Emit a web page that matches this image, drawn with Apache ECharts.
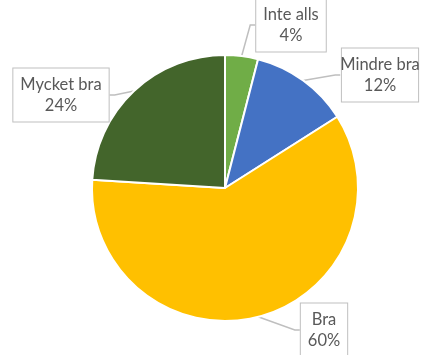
<!DOCTYPE html>
<html>
<head>
<meta charset="utf-8">
<script src="https://cdn.jsdelivr.net/npm/echarts@6/dist/echarts.min.js"></script>
<style>html,body{margin:0;padding:0;background:#fff;}#c{width:429px;height:355px;}</style>
</head>
<body>
<div id="c"></div>
<script>
const categories = ['Inte alls', 'Mindre bra', 'Bra', 'Mycket bra'];
const values = [4, 12, 60, 24];

const colors = ['#70AD47', '#4472C4', '#FFC000', '#43652B'];
const labelCenters = [[291, 25], [380, 75], [324, 330], [61, 95]];

const chart = echarts.init(document.getElementById('c'), null, {renderer: 'canvas'});
chart.setOption({
  animation: false,
  backgroundColor: '#ffffff',
  series: [{
    type: 'pie',
    center: [225, 188],
    radius: 133,
    startAngle: 90,
    clockwise: true,
    itemStyle: { borderColor: '#ffffff', borderWidth: 2 },
    label: {
      show: true,
      formatter: '{b}\n{d}%',
      fontFamily: 'Lato',
      fontSize: 16.5,
      lineHeight: 21,
      color: '#595959',
      align: 'center',
      overflow: 'none',
      backgroundColor: '#ffffff',
      borderColor: '#bfbfbf',
      borderWidth: 1,
      padding: [6, 7, 5, 7]
    },
    labelLine: {
      show: true,
      length: 5,
      length2: 5,
      lineStyle: { color: '#bfbfbf', width: 1.5 }
    },
    labelLayout: function (params) {
      const p = labelCenters[params.dataIndex];
      return { x: p[0], y: p[1], align: 'center', verticalAlign: 'middle' };
    },
    data: categories.map((c, i) => ({ name: c, value: values[i], itemStyle: { color: colors[i] } }))
  }]
});
</script>
</body>
</html>
